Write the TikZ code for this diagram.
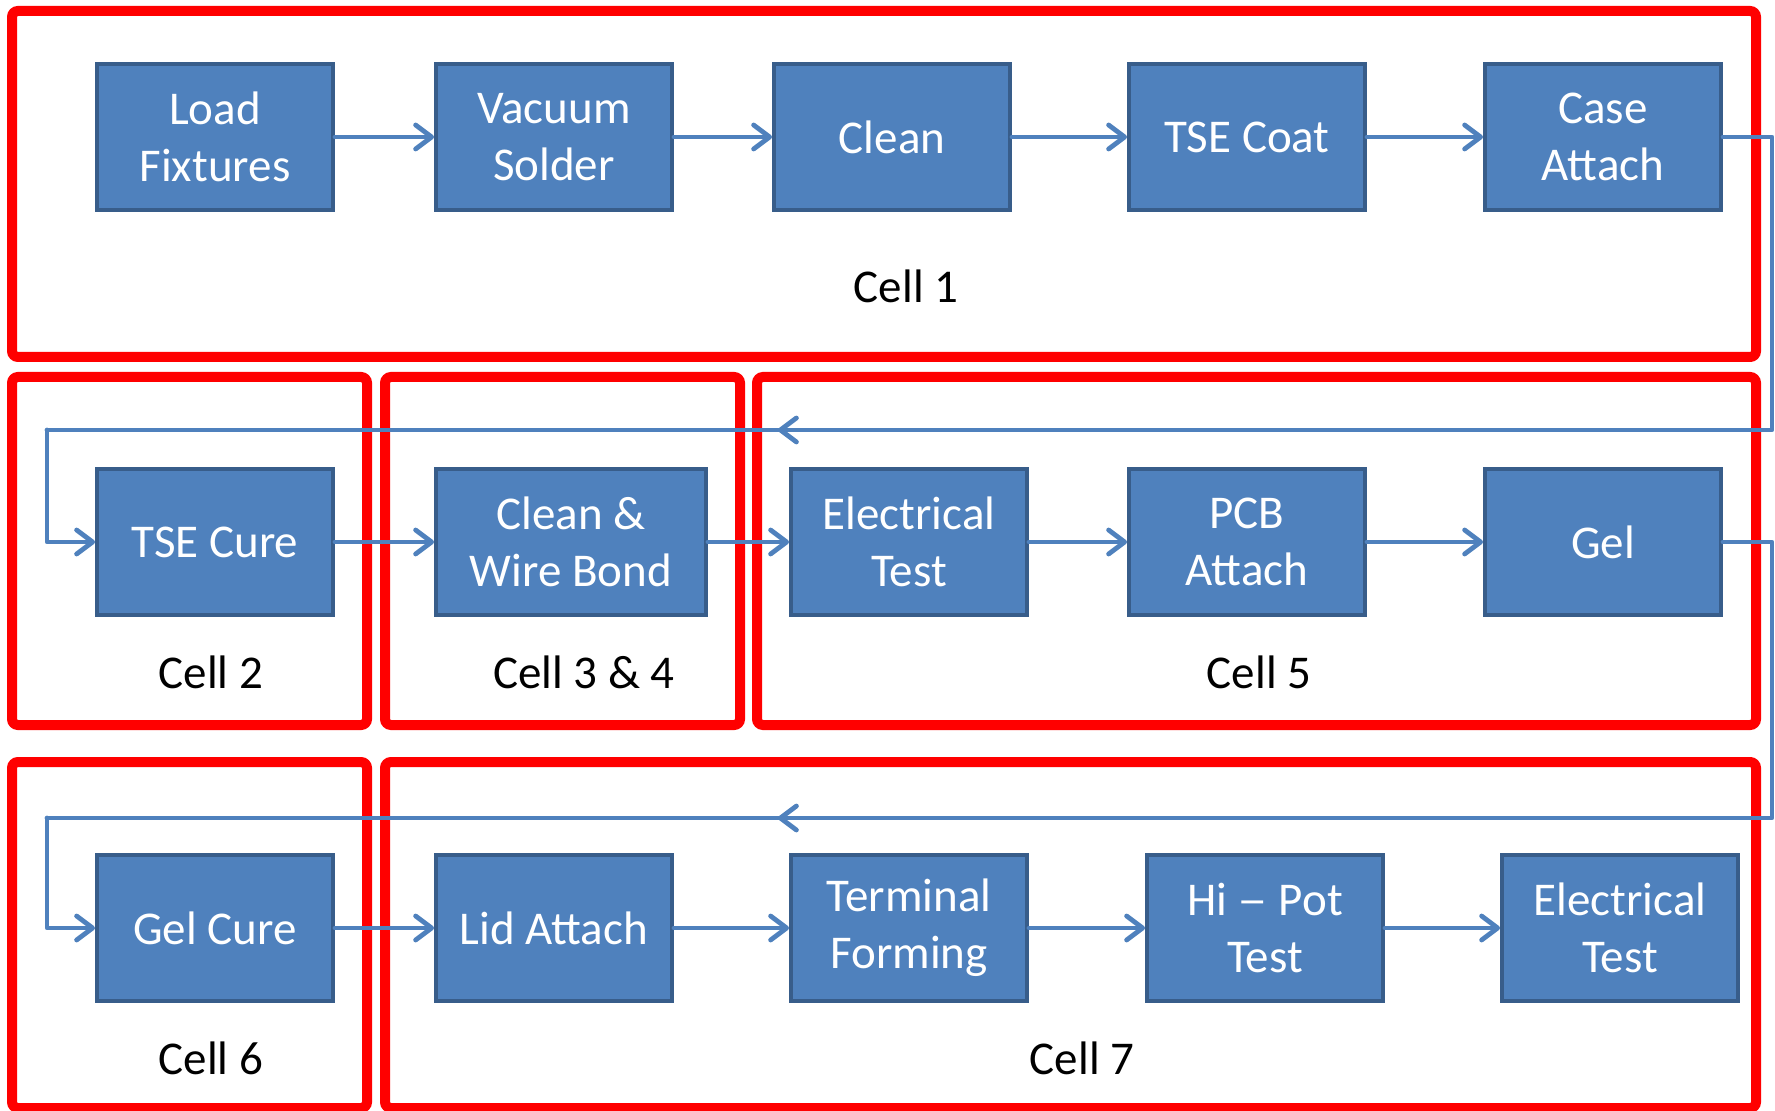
\documentclass[tikz,border=0pt]{standalone}
\usepackage{fontspec}
\setmainfont{Carlito}
\usetikzlibrary{arrows.meta}
\definecolor{boxblue}{HTML}{4F81BD}
\definecolor{boxedge}{HTML}{385D8A}
\definecolor{cellred}{HTML}{FF0000}
\begin{document}
\begin{tikzpicture}[x=0.5pt,y=-0.5pt,
    font=\fontsize{23.5}{28.5}\selectfont,
    proc/.style={draw=boxedge,line width=2pt,fill=boxblue,text=white,align=center,
                 minimum width=118pt,minimum height=73pt,inner sep=2pt},%process box
    cellframe/.style={draw=cellred,line width=5pt,rounded corners=3pt},%red cell outline
    flow/.style={draw=boxblue,line width=2.4pt,line cap=round,line join=round,
                 -{Straight Barb[length=8pt,width=12pt,line width=2.4pt,round]}},
    link/.style={draw=boxblue,line width=2.4pt,line cap=round,line join=round}
    ]
\useasboundingbox (0,0) rectangle (1775,1111);
% cells
\draw[cellframe] (12,11) rectangle (1756,357);
\draw[cellframe] (12,377) rectangle (367,725);
\draw[cellframe] (385,377) rectangle (740,725);
\draw[cellframe] (757,377) rectangle (1756,725);
\draw[cellframe] (12,762) rectangle (367,1108);
\draw[cellframe] (385,762) rectangle (1756,1108);
\node (c1) at (906,286) {Cell 1};
\node (c2) at (211,672) {Cell 2};
\node (c34) at (584,672) {Cell 3 \& 4};
\node (c5) at (1259,672) {Cell 5};
\node (c6) at (211,1058) {Cell 6};
\node (c7) at (1082,1058) {Cell 7};
% row 1
\node[proc] (load) at (215,137) {Load\\Fixtures};
\node[proc] (vac) at (554,137) {Vacuum\\Solder};
\node[proc] (clean) at (892,137) {Clean};
\node[proc] (coat) at (1247,137) {TSE Coat};
\node[proc] (case) at (1603,137) {Case\\Attach};
% row 2
\node[proc] (cure) at (215,542) {TSE Cure};
\node[proc,minimum width=135pt] (bond) at (571,542) {Clean \&\\Wire Bond};
\node[proc] (etest) at (909,542) {Electrical\\Test};
\node[proc] (pcb) at (1247,542) {PCB\\Attach};
\node[proc] (gel) at (1603,542) {Gel};
% row 3
\node[proc] (gcure) at (215,928) {Gel Cure};
\node[proc] (lid) at (554,928) {Lid Attach};
\node[proc] (term) at (909,928) {Terminal\\Forming};
\node[proc] (hipot) at (1265,928) {Hi \scalebox{1.3}[1]{–} Pot\\Test};
\node[proc] (ftest) at (1620,928) {Electrical\\Test};
% connectors
\draw[flow] (load) -- (vac);
\draw[flow] (vac) -- (clean);
\draw[flow] (clean) -- (coat);
\draw[flow] (coat) -- (case);
\draw[flow] (cure) -- (bond);
\draw[flow] (bond) -- (etest);
\draw[flow] (etest) -- (pcb);
\draw[flow] (pcb) -- (gel);
\draw[flow] (gcure) -- (lid);
\draw[flow] (lid) -- (term);
\draw[flow] (term) -- (hipot);
\draw[flow] (hipot) -- (ftest);
% return lines
\coordinate (r1) at (1772,430);
\coordinate (m1) at (778,430);
\coordinate (l1) at (47,430);
\coordinate (r2) at (1772,818);
\coordinate (m2) at (778,818);
\coordinate (l2) at (47,818);
\draw[flow] (case.east) -| (r1) -- (m1);
\draw[link] (m1) -- (l1);
\draw[flow] (l1) |- (cure.west);
\draw[flow] (gel.east) -| (r2) -- (m2);
\draw[link] (m2) -- (l2);
\draw[flow] (l2) |- (gcure.west);
\end{tikzpicture}
\end{document}
